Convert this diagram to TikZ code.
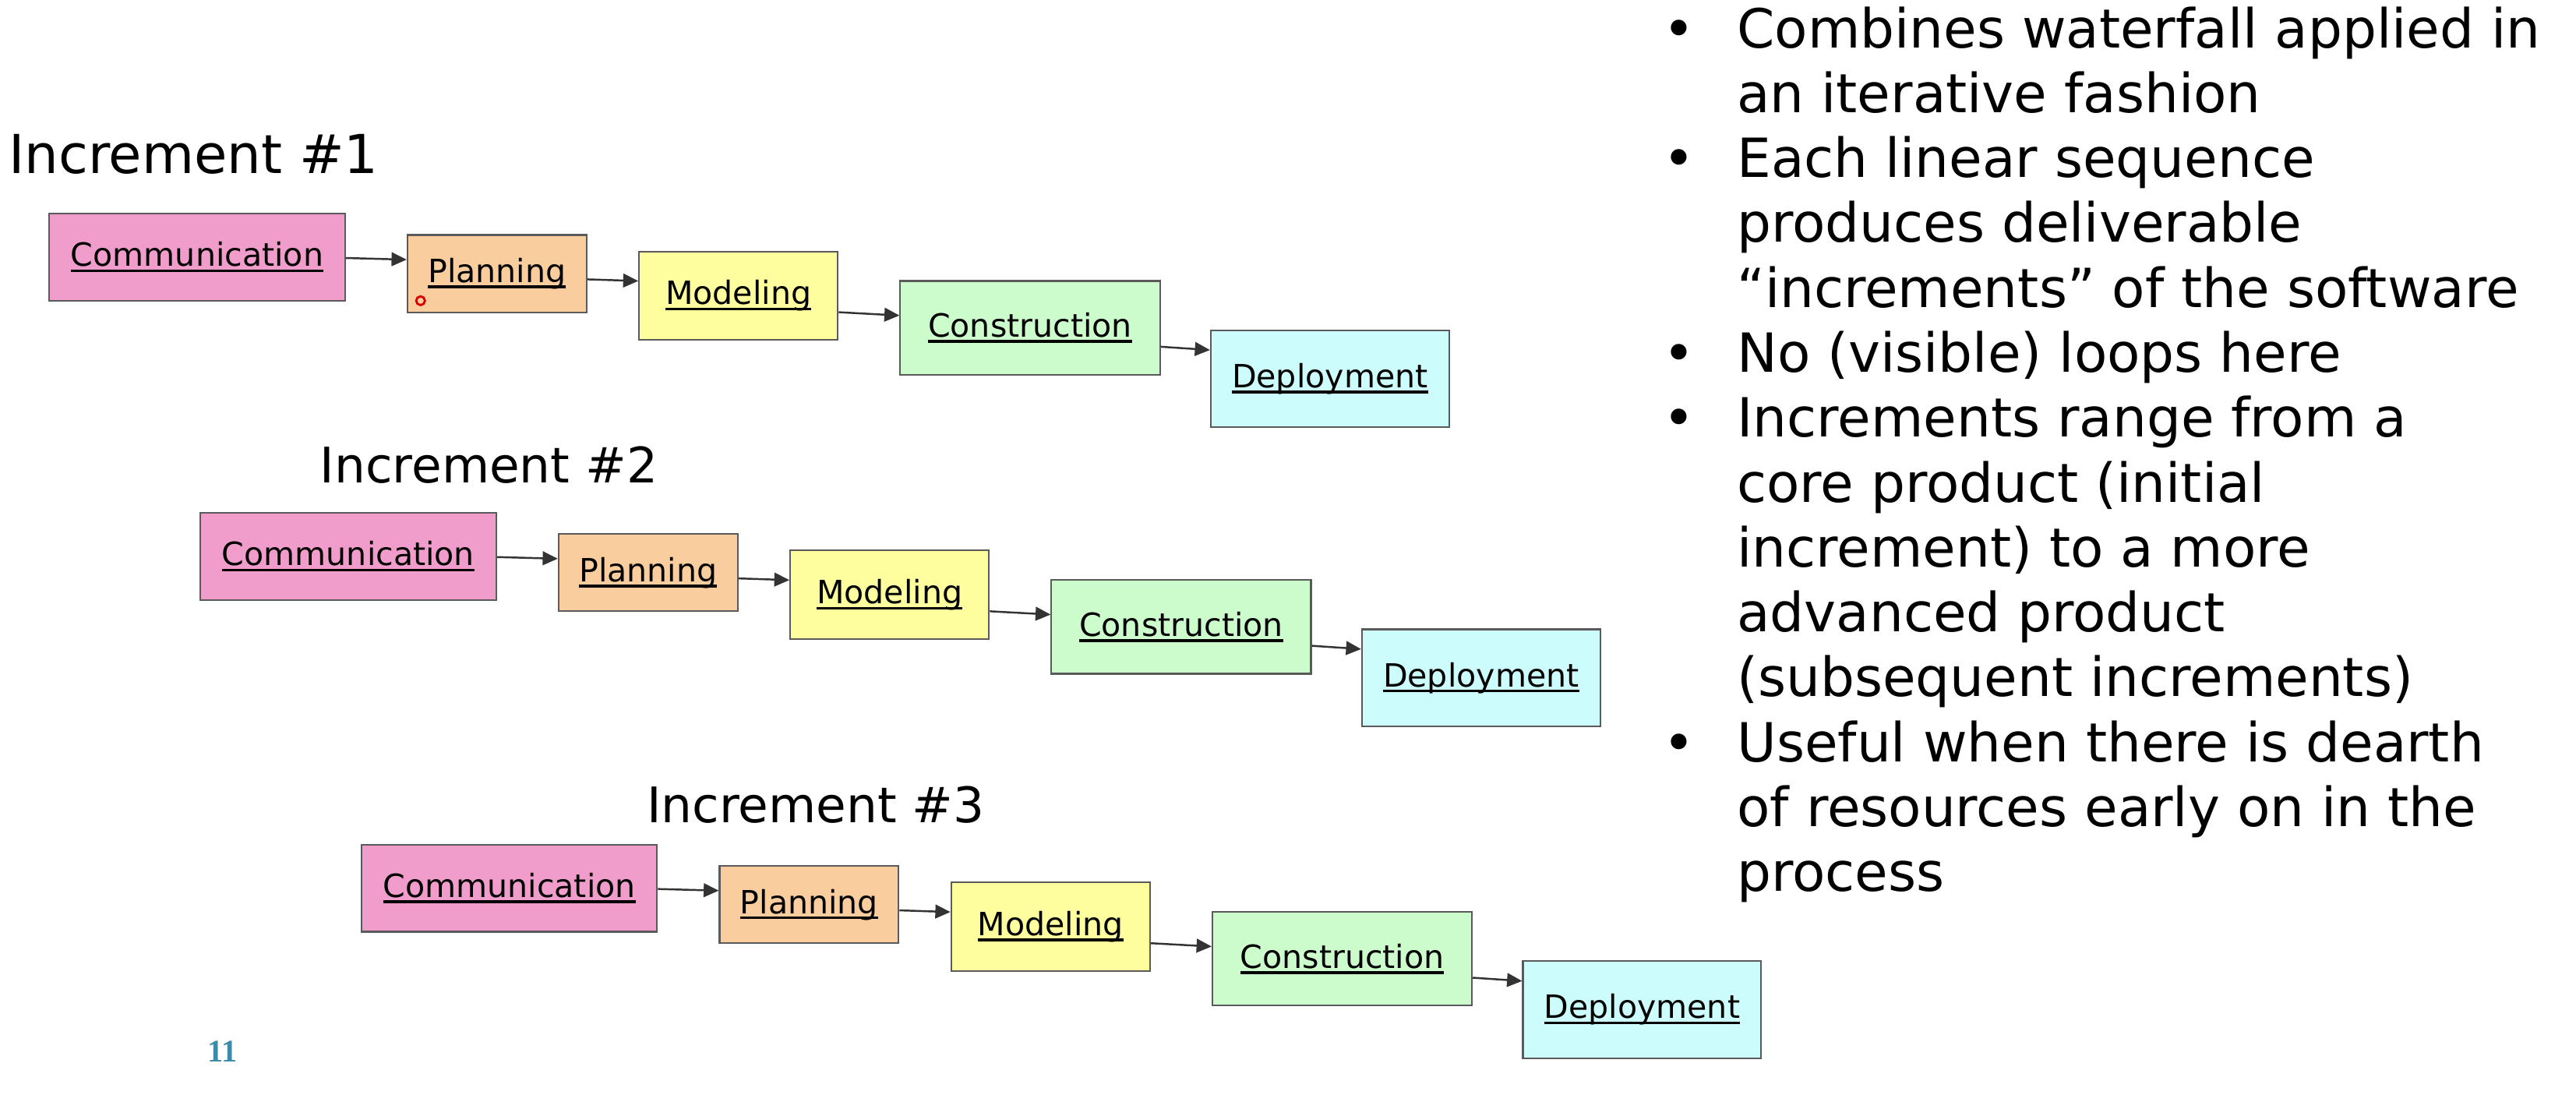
\documentclass[tikz,border=0pt]{standalone}
\usepackage{fontspec}
\setmainfont{DejaVu Sans}
\newfontfamily\numfont{Liberation Serif}
\usetikzlibrary{arrows.meta}
\definecolor{commc}{HTML}{F19DCB}
\definecolor{planc}{HTML}{F9CD9E}
\definecolor{modc}{HTML}{FEFE9F}
\definecolor{consc}{HTML}{CCFCCC}
\definecolor{depc}{HTML}{CCFCFC}
\definecolor{edgec}{HTML}{5A5A5A}
\definecolor{numc}{HTML}{3A8CA8}
\def\u{0.021084cm}
\newcommand\myul[1]{\setbox0\hbox{#1}\rlap{\rule[-0.18em]{\wd0}{0.085em}}\box0}
\tikzset{
  box/.style={draw=edgec, line width=0.6pt, inner sep=0pt, anchor=center,
    font=\fontsize{11.7}{14}\selectfont, text=black},
  arr/.style={draw=black!80, line width=0.7pt, -{Triangle[length=5.5pt,width=5pt]}},
  inclabel/.style={anchor=base west, inner sep=0pt},
  bline/.style={anchor=base west, inner sep=0pt, font=\fontsize{19.7}{23.6}\selectfont},
}
\begin{document}
\begin{tikzpicture}[x=0.021084cm, y=-0.021084cm]
\useasboundingbox[fill=white] (0,0) rectangle (1568,666);

% Increment labels
\node[inclabel, font=\fontsize{19.6}{23}\selectfont] (l1) at (5,105.5) {Increment \#1};
\node[inclabel, font=\fontsize{17.9}{21}\selectfont] (l2) at (194.5,294) {Increment \#2};
\node[inclabel, font=\fontsize{17.9}{21}\selectfont] (l3) at (393.5,500.5) {Increment \#3};

% Three rows of boxes
\foreach \r/\dx/\dy in {1/0/0, 2/92/182, 3/190/384} {
  \begin{scope}[shift={(\dx,\dy)}]
    \node[box, fill=commc, minimum width=180*\u, minimum height=53*\u] (c\r) at (120,156.5) {\myul{Communication}};
    \node[box, fill=planc, minimum width=109*\u, minimum height=47*\u] (p\r) at (302.5,166.5) {\myul{Planning}};
    \node[box, fill=modc, minimum width=121*\u, minimum height=54*\u] (m\r) at (449.5,180) {\myul{Modeling}};
    \node[box, fill=consc, minimum width=158*\u, minimum height=57*\u] (k\r) at (627,199.5) {\myul{Construction}};
    \node[box, fill=depc, minimum width=145*\u, minimum height=59*\u] (d\r) at (809.5,230.5) {\myul{Deployment}};
    \draw[arr] (c\r.east |- 0,157) -- (p\r.west |- 0,158);
    \draw[arr] (p\r.east |- 0,170) -- (m\r.west |- 0,171);
    \draw[arr] (m\r.east |- 0,190) -- (k\r.west |- 0,192);
    \draw[arr] (k\r.east |- 0,211) -- (d\r.west |- 0,213);
  \end{scope}
}

% pointer mark
\draw[red!85!black, line width=0.8pt] (256,183) circle[radius=1.6pt];

% Bullet text
\foreach \i/\t in {
  0/{Combines waterfall applied in},
  1/{an iterative fashion},
  2/{Each linear sequence},
  3/{produces deliverable},
  4/{“increments” of the software},
  5/{No (visible) loops here},
  6/{Increments range from a},
  7/{core product (initial},
  8/{increment) to a more},
  9/{advanced product},
  10/{(subsequent increments)},
  11/{Useful when there is dearth},
  12/{of resources early on in the},
  13/{process}} {
  \node[bline] (t\i) at (1057,29+39.5*\i) {\t};
}
\foreach \i in {0,2,5,6,11} {
  \node[bline] (b\i) at (1012,29+39.5*\i) {•};
}

% page number
\node[anchor=base west, inner sep=0pt, text=numc, font=\numfont\bfseries\fontsize{11.5}{13}\selectfont] (pg) at (126,646) {11};
\end{tikzpicture}
\end{document}
